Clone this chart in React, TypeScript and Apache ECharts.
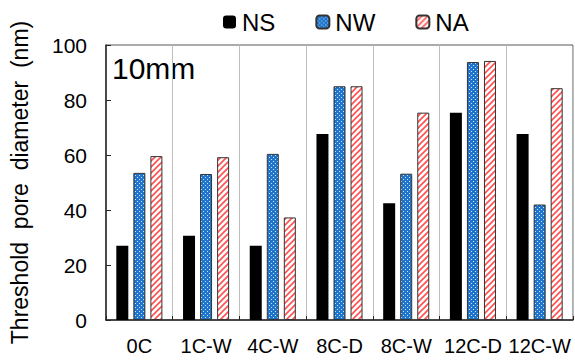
import React, { useEffect, useRef } from "react";
import * as echarts from "echarts";

const categories = ["0C", "1C-W", "4C-W", "8C-D", "8C-W", "12C-D", "12C-W"];
const nsValues = [27, 30.6, 27, 67.6, 42.5, 75.4, 67.6];
const nwValues = [53.5, 53.1, 60.4, 85, 53.2, 93.8, 42];
const naValues = [59.6, 59.2, 37.3, 85, 75.4, 94.2, 84.3];
const yTicks = [0, 20, 40, 60, 80, 100];

function dotPattern(): HTMLCanvasElement {
  const c = document.createElement("canvas");
  c.width = 4;
  c.height = 4;
  const g = c.getContext("2d")!;
  g.fillStyle = "#1f74cc";
  g.fillRect(0, 0, 4, 4);
  g.fillStyle = "#cfe3f7";
  g.fillRect(1, 1, 1, 1);
  g.fillRect(3, 3, 1, 1);
  return c;
}

function stripePattern(): HTMLCanvasElement {
  const c = document.createElement("canvas");
  c.width = 6;
  c.height = 6;
  const g = c.getContext("2d")!;
  g.fillStyle = "#ffffff";
  g.fillRect(0, 0, 6, 6);
  g.strokeStyle = "#ff4f4f";
  g.lineWidth = 1.6;
  g.beginPath();
  g.moveTo(-1, 7);
  g.lineTo(7, -1);
  g.moveTo(-4, 4);
  g.lineTo(4, -4);
  g.moveTo(2, 10);
  g.lineTo(10, 2);
  g.stroke();
  return c;
}

export default function App() {
  const ref = useRef<HTMLDivElement>(null);
  useEffect(() => {
    if (!ref.current) return;
    const chart = echarts.init(ref.current, null, { renderer: "svg" });
    const font = "'Liberation Sans', Arial, sans-serif";
    const nwFill: any = { image: dotPattern(), repeat: "repeat" };
    const naFill: any = { image: stripePattern(), repeat: "repeat" };
    chart.setOption({
      animation: false,
      backgroundColor: "#ffffff",
      textStyle: { fontFamily: font },
      legend: {
        left: 218,
        top: 5,
        itemWidth: 13,
        itemHeight: 13,
        itemGap: 40,
        textStyle: { fontSize: 24, color: "#000", fontFamily: font, padding: [0, 0, 0, 1] },
        data: ["NS", "NW", "NA"],
      },
      grid: {
        left: 96,
        right: 2,
        top: 45,
        bottom: 40,
        show: true,
        borderColor: "#595959",
        borderWidth: 1,
      },
      xAxis: {
        type: "category",
        data: categories,
        axisLine: { lineStyle: { color: "#262626", width: 1.5 } },
        axisTick: { show: true, inside: true, length: 4, lineStyle: { color: "#262626" } },
        axisLabel: { fontSize: 20, color: "#000", margin: 16, fontFamily: font, interval: 0 },
        splitLine: { show: true, lineStyle: { color: "#bfbfbf", width: 1 } },
      },
      yAxis: {
        type: "value",
        min: 0,
        max: 100,
        interval: 20,
        name: "Threshold  pore  diameter  (nm)",
        nameLocation: "middle",
        nameGap: 75,
        nameTextStyle: { fontSize: 23, color: "#000", fontFamily: font },
        axisLine: { show: true, lineStyle: { color: "#262626", width: 1.5 } },
        axisTick: { show: true, inside: true, length: 5, lineStyle: { color: "#262626" } },
        axisLabel: {
          fontSize: 21,
          color: "#000",
          margin: 19,
          fontFamily: font,
          formatter: (v: number) => (yTicks.includes(v) ? String(v) : ""),
        },
        splitLine: { show: false },
      },
      graphic: [
        {
          type: "text",
          left: 112,
          top: 53,
          style: { text: "10mm", fontSize: 30, fill: "#000", fontFamily: font },
        },
      ],
      series: [
        {
          name: "NS",
          type: "bar",
          data: nsValues,
          barWidth: 12,
          barGap: "42%",
          itemStyle: { color: "#000000" },
        },
        {
          name: "NW",
          type: "bar",
          data: nwValues,
          barWidth: 12,
          barGap: "42%",
          itemStyle: { color: nwFill, borderColor: "#333333", borderWidth: 1 },
        },
        {
          name: "NA",
          type: "bar",
          data: naValues,
          barWidth: 12,
          barGap: "42%",
          itemStyle: { color: naFill, borderColor: "#333333", borderWidth: 1 },
        },
      ],
    });
    return () => chart.dispose();
  }, []);
  return <div ref={ref} style={{ width: 575, height: 360, position: "absolute", left: 0, top: 0 }} />;
}
